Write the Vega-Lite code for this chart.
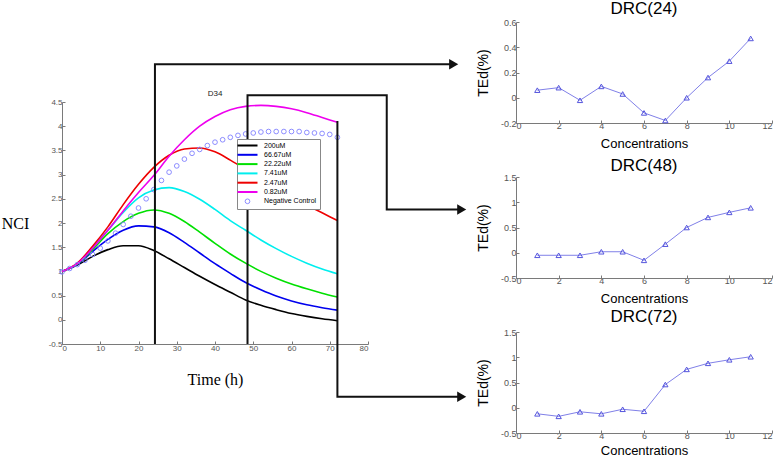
{
  "$schema": "https://vega.github.io/schema/vega-lite/v6.json",
  "padding": {"left": 1, "top": 0, "right": 0, "bottom": 0},
  "background": "white",
  "bounds": "flush",
  "spacing": 148,
  "config": {
    "view": {"stroke": null},
    "axis": {"grid": false, "domainColor": "#7a7a7a", "tickColor": "#7a7a7a", "labelColor": "#555555", "labelFont": "Liberation Sans", "labelFontSize": 8, "tickSize": -3, "labelPadding": 3, "titleColor": "black", "titleFontWeight": "normal"},
    "title": {"font": "Liberation Sans", "fontSize": 17, "fontWeight": "normal", "color": "black"}
  },
  "datasets": {
    "curves": [
      {"series": "200uM", "t": 0, "v": 1.0}, {"series": "200uM", "t": 4, "v": 1.13}, {"series": "200uM", "t": 8, "v": 1.31}, {"series": "200uM", "t": 12, "v": 1.45}, {"series": "200uM", "t": 16, "v": 1.53}, {"series": "200uM", "t": 20, "v": 1.53}, {"series": "200uM", "t": 24, "v": 1.43}, {"series": "200uM", "t": 28, "v": 1.26}, {"series": "200uM", "t": 32, "v": 1.08}, {"series": "200uM", "t": 36, "v": 0.9}, {"series": "200uM", "t": 40, "v": 0.73}, {"series": "200uM", "t": 44, "v": 0.57}, {"series": "200uM", "t": 48, "v": 0.41}, {"series": "200uM", "t": 52, "v": 0.3}, {"series": "200uM", "t": 56, "v": 0.21}, {"series": "200uM", "t": 60, "v": 0.13}, {"series": "200uM", "t": 64, "v": 0.07}, {"series": "200uM", "t": 68, "v": 0.02}, {"series": "200uM", "t": 72, "v": -0.02},
      {"series": "66.67uM", "t": 0, "v": 1.0}, {"series": "66.67uM", "t": 4, "v": 1.14}, {"series": "66.67uM", "t": 8, "v": 1.41}, {"series": "66.67uM", "t": 12, "v": 1.66}, {"series": "66.67uM", "t": 16, "v": 1.85}, {"series": "66.67uM", "t": 20, "v": 1.94}, {"series": "66.67uM", "t": 24, "v": 1.92}, {"series": "66.67uM", "t": 28, "v": 1.8}, {"series": "66.67uM", "t": 32, "v": 1.6}, {"series": "66.67uM", "t": 36, "v": 1.38}, {"series": "66.67uM", "t": 40, "v": 1.16}, {"series": "66.67uM", "t": 44, "v": 0.96}, {"series": "66.67uM", "t": 48, "v": 0.77}, {"series": "66.67uM", "t": 52, "v": 0.62}, {"series": "66.67uM", "t": 56, "v": 0.49}, {"series": "66.67uM", "t": 60, "v": 0.39}, {"series": "66.67uM", "t": 64, "v": 0.31}, {"series": "66.67uM", "t": 68, "v": 0.25}, {"series": "66.67uM", "t": 72, "v": 0.2},
      {"series": "22.22uM", "t": 0, "v": 1.0}, {"series": "22.22uM", "t": 4, "v": 1.15}, {"series": "22.22uM", "t": 8, "v": 1.45}, {"series": "22.22uM", "t": 12, "v": 1.78}, {"series": "22.22uM", "t": 16, "v": 2.03}, {"series": "22.22uM", "t": 20, "v": 2.2}, {"series": "22.22uM", "t": 24, "v": 2.27}, {"series": "22.22uM", "t": 28, "v": 2.2}, {"series": "22.22uM", "t": 32, "v": 2.03}, {"series": "22.22uM", "t": 36, "v": 1.81}, {"series": "22.22uM", "t": 40, "v": 1.58}, {"series": "22.22uM", "t": 44, "v": 1.36}, {"series": "22.22uM", "t": 48, "v": 1.17}, {"series": "22.22uM", "t": 52, "v": 1.0}, {"series": "22.22uM", "t": 56, "v": 0.86}, {"series": "22.22uM", "t": 60, "v": 0.74}, {"series": "22.22uM", "t": 64, "v": 0.64}, {"series": "22.22uM", "t": 68, "v": 0.55}, {"series": "22.22uM", "t": 72, "v": 0.47},
      {"series": "7.41uM", "t": 0, "v": 1.0}, {"series": "7.41uM", "t": 4, "v": 1.16}, {"series": "7.41uM", "t": 8, "v": 1.5}, {"series": "7.41uM", "t": 12, "v": 1.85}, {"series": "7.41uM", "t": 16, "v": 2.22}, {"series": "7.41uM", "t": 20, "v": 2.52}, {"series": "7.41uM", "t": 24, "v": 2.68}, {"series": "7.41uM", "t": 28, "v": 2.73}, {"series": "7.41uM", "t": 32, "v": 2.65}, {"series": "7.41uM", "t": 36, "v": 2.49}, {"series": "7.41uM", "t": 40, "v": 2.28}, {"series": "7.41uM", "t": 44, "v": 2.05}, {"series": "7.41uM", "t": 48, "v": 1.85}, {"series": "7.41uM", "t": 52, "v": 1.65}, {"series": "7.41uM", "t": 56, "v": 1.47}, {"series": "7.41uM", "t": 60, "v": 1.31}, {"series": "7.41uM", "t": 64, "v": 1.17}, {"series": "7.41uM", "t": 68, "v": 1.05}, {"series": "7.41uM", "t": 72, "v": 0.95},
      {"series": "2.47uM", "t": 0, "v": 1.0}, {"series": "2.47uM", "t": 4, "v": 1.17}, {"series": "2.47uM", "t": 8, "v": 1.52}, {"series": "2.47uM", "t": 12, "v": 1.92}, {"series": "2.47uM", "t": 16, "v": 2.38}, {"series": "2.47uM", "t": 20, "v": 2.8}, {"series": "2.47uM", "t": 24, "v": 3.15}, {"series": "2.47uM", "t": 28, "v": 3.4}, {"series": "2.47uM", "t": 32, "v": 3.53}, {"series": "2.47uM", "t": 36, "v": 3.55}, {"series": "2.47uM", "t": 40, "v": 3.47}, {"series": "2.47uM", "t": 44, "v": 3.3}, {"series": "2.47uM", "t": 48, "v": 3.11}, {"series": "2.47uM", "t": 52, "v": 2.91}, {"series": "2.47uM", "t": 56, "v": 2.72}, {"series": "2.47uM", "t": 60, "v": 2.53}, {"series": "2.47uM", "t": 64, "v": 2.37}, {"series": "2.47uM", "t": 68, "v": 2.21}, {"series": "2.47uM", "t": 72, "v": 2.05},
      {"series": "0.82uM", "t": 0, "v": 1.0}, {"series": "0.82uM", "t": 4, "v": 1.16}, {"series": "0.82uM", "t": 8, "v": 1.48}, {"series": "0.82uM", "t": 12, "v": 1.85}, {"series": "0.82uM", "t": 16, "v": 2.25}, {"series": "0.82uM", "t": 20, "v": 2.63}, {"series": "0.82uM", "t": 24, "v": 2.98}, {"series": "0.82uM", "t": 28, "v": 3.38}, {"series": "0.82uM", "t": 32, "v": 3.72}, {"series": "0.82uM", "t": 36, "v": 4.0}, {"series": "0.82uM", "t": 40, "v": 4.2}, {"series": "0.82uM", "t": 44, "v": 4.34}, {"series": "0.82uM", "t": 48, "v": 4.41}, {"series": "0.82uM", "t": 52, "v": 4.43}, {"series": "0.82uM", "t": 56, "v": 4.41}, {"series": "0.82uM", "t": 60, "v": 4.36}, {"series": "0.82uM", "t": 64, "v": 4.28}, {"series": "0.82uM", "t": 68, "v": 4.18}, {"series": "0.82uM", "t": 72, "v": 4.08}
    ],
    "control": [
      {"series": "Negative Control", "t": 0, "v": 0.99}, {"series": "Negative Control", "t": 2, "v": 1.06}, {"series": "Negative Control", "t": 4, "v": 1.14}, {"series": "Negative Control", "t": 6, "v": 1.23}, {"series": "Negative Control", "t": 8, "v": 1.35}, {"series": "Negative Control", "t": 10, "v": 1.48}, {"series": "Negative Control", "t": 12, "v": 1.63}, {"series": "Negative Control", "t": 14, "v": 1.79}, {"series": "Negative Control", "t": 16, "v": 1.97}, {"series": "Negative Control", "t": 18, "v": 2.14}, {"series": "Negative Control", "t": 20, "v": 2.31}, {"series": "Negative Control", "t": 22, "v": 2.5}, {"series": "Negative Control", "t": 24, "v": 2.69}, {"series": "Negative Control", "t": 26, "v": 2.88}, {"series": "Negative Control", "t": 28, "v": 3.05}, {"series": "Negative Control", "t": 30, "v": 3.18}, {"series": "Negative Control", "t": 32, "v": 3.32}, {"series": "Negative Control", "t": 34, "v": 3.44}, {"series": "Negative Control", "t": 36, "v": 3.52}, {"series": "Negative Control", "t": 38, "v": 3.6}, {"series": "Negative Control", "t": 40, "v": 3.67}, {"series": "Negative Control", "t": 42, "v": 3.72}, {"series": "Negative Control", "t": 44, "v": 3.77}, {"series": "Negative Control", "t": 46, "v": 3.81}, {"series": "Negative Control", "t": 48, "v": 3.84}, {"series": "Negative Control", "t": 50, "v": 3.86}, {"series": "Negative Control", "t": 52, "v": 3.88}, {"series": "Negative Control", "t": 54, "v": 3.89}, {"series": "Negative Control", "t": 56, "v": 3.89}, {"series": "Negative Control", "t": 58, "v": 3.89}, {"series": "Negative Control", "t": 60, "v": 3.89}, {"series": "Negative Control", "t": 62, "v": 3.89}, {"series": "Negative Control", "t": 64, "v": 3.87}, {"series": "Negative Control", "t": 66, "v": 3.86}, {"series": "Negative Control", "t": 68, "v": 3.85}, {"series": "Negative Control", "t": 70, "v": 3.83}, {"series": "Negative Control", "t": 72, "v": 3.77}
    ],
    "arrows": [
      {"arrow": "a24", "o": 1, "t": 24.3, "v": -0.5}, {"arrow": "a24", "o": 2, "t": 24.3, "v": 5.28}, {"arrow": "a24", "o": 3, "t": 102.4, "v": 5.28},
      {"arrow": "a48", "o": 1, "t": 48.5, "v": -0.5}, {"arrow": "a48", "o": 2, "t": 48.5, "v": 4.64}, {"arrow": "a48", "o": 3, "t": 84.9, "v": 4.64}, {"arrow": "a48", "o": 4, "t": 84.9, "v": 2.28}, {"arrow": "a48", "o": 5, "t": 104.5, "v": 2.28},
      {"arrow": "a72", "o": 1, "t": 72, "v": 4.11}, {"arrow": "a72", "o": 2, "t": 72, "v": -1.59}, {"arrow": "a72", "o": 3, "t": 104.5, "v": -1.59}
    ],
    "heads": [
      {"arrow": "a24", "t": 102.4, "v": 5.28}, {"arrow": "a48", "t": 104.5, "v": 2.28}, {"arrow": "a72", "t": 104.5, "v": -1.59}
    ],
    "d24": [
      {"c": 1, "te": 0.06}, {"c": 2, "te": 0.08}, {"c": 3, "te": -0.02}, {"c": 4, "te": 0.09}, {"c": 5, "te": 0.03}, {"c": 6, "te": -0.12}, {"c": 7, "te": -0.18}, {"c": 8, "te": 0.0}, {"c": 9, "te": 0.16}, {"c": 10, "te": 0.29}, {"c": 11, "te": 0.47}
    ],
    "d48": [
      {"c": 1, "te": -0.05}, {"c": 2, "te": -0.05}, {"c": 3, "te": -0.05}, {"c": 4, "te": 0.02}, {"c": 5, "te": 0.02}, {"c": 6, "te": -0.15}, {"c": 7, "te": 0.17}, {"c": 8, "te": 0.5}, {"c": 9, "te": 0.7}, {"c": 10, "te": 0.8}, {"c": 11, "te": 0.89}
    ],
    "d72": [
      {"c": 1, "te": -0.12}, {"c": 2, "te": -0.17}, {"c": 3, "te": -0.08}, {"c": 4, "te": -0.12}, {"c": 5, "te": -0.03}, {"c": 6, "te": -0.07}, {"c": 7, "te": 0.46}, {"c": 8, "te": 0.76}, {"c": 9, "te": 0.88}, {"c": 10, "te": 0.95}, {"c": 11, "te": 1.01}
    ]
  },
  "hconcat": [
    {
      "width": 306,
      "height": 322,
      "title": {"text": "D34", "fontSize": 8, "color": "#222222", "frame": "group", "anchor": "middle", "offset": 0, "dy": 76},
      "encoding": {
        "x": {"field": "t", "type": "quantitative", "scale": {"domain": [0, 80], "nice": false, "zero": false},
          "axis": {"values": [0, 10, 20, 30, 40, 50, 60, 70, 80], "format": "~f", "title": "Time (h)", "titleFont": "Liberation Serif", "titleFontSize": 16, "titleY": 35, "titleBaseline": "middle"}},
        "y": {"field": "v", "type": "quantitative", "scale": {"domain": [-0.5, 4.5], "nice": false, "zero": false, "range": [322, 80]},
          "axis": {"values": [-0.5, 0, 0.5, 1, 1.5, 2, 2.5, 3, 3.5, 4, 4.5], "format": "~f", "labelExpr": "replace(datum.label, '−', '-')", "title": "NCI", "titleFont": "Liberation Serif", "titleFontSize": 16, "titleAngle": 0, "titleX": -47, "titleY": 201, "titleAlign": "center", "titleBaseline": "middle"}}
      },
      "layer": [
        {
          "data": {"name": "curves"},
          "mark": {"type": "line", "strokeWidth": 1.6, "interpolate": "monotone"},
          "encoding": {
            "color": {"field": "series", "type": "nominal",
              "scale": {"domain": ["200uM", "66.67uM", "22.22uM", "7.41uM", "2.47uM", "0.82uM", "Negative Control"], "range": ["#000000", "#0000ee", "#00e000", "#00eeee", "#ee0000", "#ee00ee", "#8080ff"]},
              "legend": {"orient": "none", "legendX": 175, "legendY": 117, "title": null, "symbolType": "stroke", "symbolSize": 400, "symbolStrokeWidth": 2, "symbolOffset": 4, "labelFontSize": 7, "labelFont": "Liberation Sans", "labelColor": "black", "labelOffset": 13, "strokeColor": "#888888", "fillColor": "white", "padding": 3, "rowPadding": 0.3,
                "encode": {"symbols": {"update": {
                  "shape": {"signal": "datum.value === 'Negative Control' ? 'circle' : 'stroke'"},
                  "size": {"signal": "datum.value === 'Negative Control' ? 22 : 400"},
                  "strokeWidth": {"signal": "datum.value === 'Negative Control' ? 0.9 : 2"},
                  "fill": {"value": "transparent"}
                }}}}
            }
          }
        },
        {
          "data": {"name": "control"},
          "mark": {"type": "point", "shape": "circle", "filled": false, "size": 22, "strokeWidth": 0.9, "opacity": 1},
          "encoding": {"color": {"field": "series", "type": "nominal"}}
        },
        {
          "data": {"name": "arrows"},
          "mark": {"type": "line", "color": "#111111", "strokeWidth": 2, "clip": false},
          "encoding": {"detail": {"field": "arrow", "type": "nominal"}, "order": {"field": "o", "type": "quantitative"}}
        },
        {
          "data": {"name": "heads"},
          "mark": {"type": "point", "shape": "triangle-right", "filled": true, "color": "#111111", "size": 110, "opacity": 1, "clip": false}
        }
      ]
    },
    {
      "vconcat": [
        {
          "width": 256, "height": 101,
          "title": {"text": "DRC(24)", "offset": 0, "dy": 0},
          "data": {"name": "d24"},
          "encoding": {
            "x": {"field": "c", "type": "quantitative", "scale": {"domain": [0, 12], "nice": false}, "axis": {"values": [0, 2, 4, 6, 8, 10, 12], "format": "~f", "labelFontSize": 9, "labelPadding": 1, "title": "Concentrations", "titleFontSize": 13, "titleFont": "Liberation Sans", "titleY": 20, "titleBaseline": "middle"}},
            "y": {"field": "te", "type": "quantitative", "scale": {"domain": [-0.2, 0.6], "nice": false, "zero": false}, "axis": {"values": [-0.2, 0, 0.2, 0.4, 0.6], "format": "~f", "labelFontSize": 9, "labelExpr": "replace(datum.label, '−', '-')", "title": "TEd(%)", "titleFontSize": 14, "titleFont": "Liberation Sans", "titlePadding": 10}}
          },
          "layer": [
            {"mark": {"type": "line", "color": "#8080e8", "strokeWidth": 1}},
            {"mark": {"type": "point", "shape": "triangle-up", "filled": false, "color": "#5555dd", "size": 28, "strokeWidth": 1, "opacity": 1}}
          ]
        },
        {
          "width": 256, "height": 101,
          "title": {"text": "DRC(48)", "offset": 0, "dy": 2.3},
          "data": {"name": "d48"},
          "encoding": {
            "x": {"field": "c", "type": "quantitative", "scale": {"domain": [0, 12], "nice": false}, "axis": {"values": [0, 2, 4, 6, 8, 10, 12], "format": "~f", "labelFontSize": 9, "labelPadding": 1, "title": "Concentrations", "titleFontSize": 13, "titleFont": "Liberation Sans", "titleY": 20, "titleBaseline": "middle"}},
            "y": {"field": "te", "type": "quantitative", "scale": {"domain": [-0.5, 1.5], "nice": false, "zero": false}, "axis": {"values": [-0.5, 0, 0.5, 1, 1.5], "format": "~f", "labelFontSize": 9, "labelExpr": "replace(datum.label, '−', '-')", "title": "TEd(%)", "titleFontSize": 14, "titleFont": "Liberation Sans", "titlePadding": 10}}
          },
          "layer": [
            {"mark": {"type": "line", "color": "#8080e8", "strokeWidth": 1}},
            {"mark": {"type": "point", "shape": "triangle-up", "filled": false, "color": "#5555dd", "size": 28, "strokeWidth": 1, "opacity": 1}}
          ]
        },
        {
          "width": 256, "height": 101,
          "title": {"text": "DRC(72)", "offset": 0, "dy": -2.4},
          "data": {"name": "d72"},
          "encoding": {
            "x": {"field": "c", "type": "quantitative", "scale": {"domain": [0, 12], "nice": false}, "axis": {"values": [0, 2, 4, 6, 8, 10, 12], "format": "~f", "labelFontSize": 9, "labelPadding": 1, "title": "Concentrations", "titleFontSize": 13, "titleFont": "Liberation Sans", "titleY": 17, "titleBaseline": "middle"}},
            "y": {"field": "te", "type": "quantitative", "scale": {"domain": [-0.5, 1.5], "nice": false, "zero": false}, "axis": {"values": [-0.5, 0, 0.5, 1, 1.5], "format": "~f", "labelFontSize": 9, "labelExpr": "replace(datum.label, '−', '-')", "title": "TEd(%)", "titleFontSize": 14, "titleFont": "Liberation Sans", "titlePadding": 10}}
          },
          "layer": [
            {"mark": {"type": "line", "color": "#8080e8", "strokeWidth": 1}},
            {"mark": {"type": "point", "shape": "triangle-up", "filled": false, "color": "#5555dd", "size": 28, "strokeWidth": 1, "opacity": 1}}
          ]
        }
      ],
      "spacing": 54,
      "bounds": "flush"
    }
  ]
}
